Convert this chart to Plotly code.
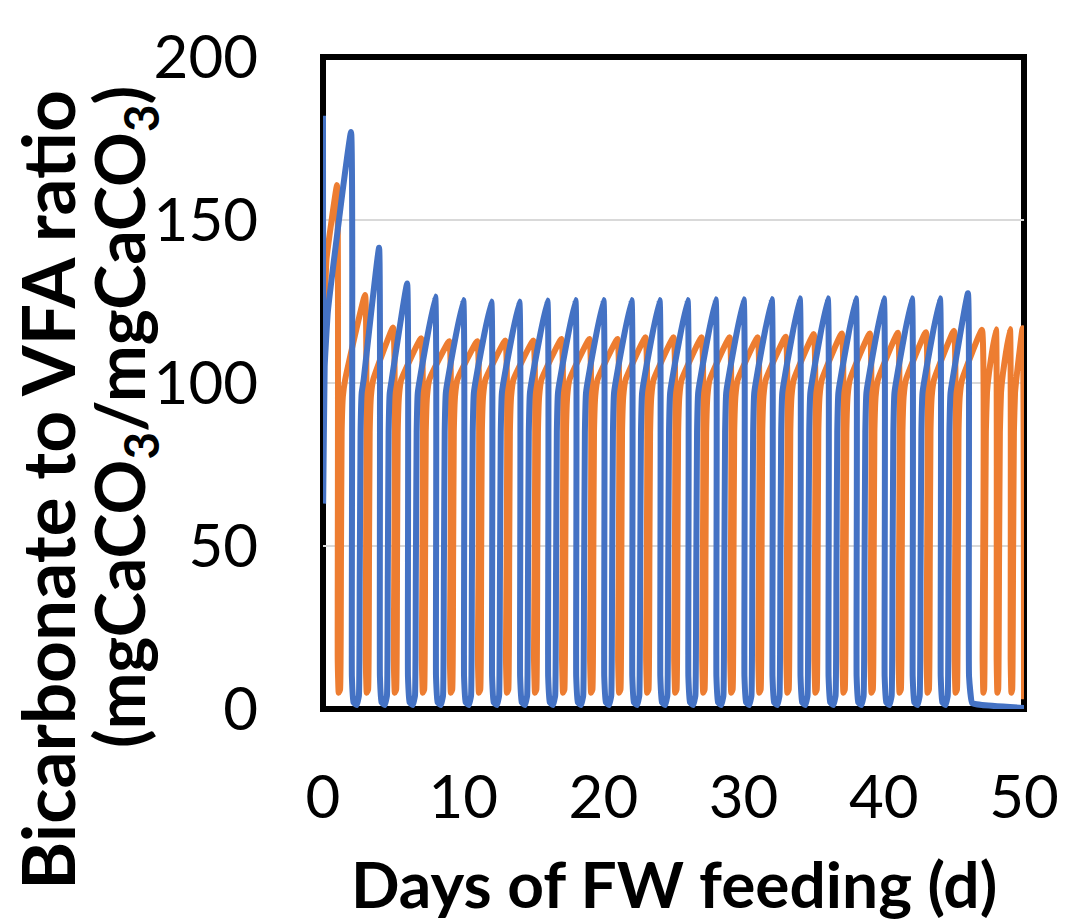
import plotly.graph_objects as go

# ---------------- data ----------------
# Blue series: 2-day feeding cycle, peaks on even days until day 46
blue_start_days = [0.0, 0.01, 0.12, 0.35]
blue_start_vals = [182, 63, 105, 122]
blue_peak_days = [2, 4, 6, 8, 10, 12, 14, 16, 18, 20, 22, 24, 26, 28, 30, 32, 34, 36, 38, 40, 42, 44, 46]
blue_peak_vals = [177, 141.5, 130.5, 126.5, 125.5, 125, 125, 125.3, 125.5, 125.5, 125.5, 125.5, 125.5,
                  125.7, 125.7, 125.8, 126, 126, 126, 126, 126, 126, 127.5]
# shape of one blue cycle after a peak (day offset, value)
blue_cycle_dt = [0.06, 0.18, 0.4, 0.56, 0.62, 0.68, 0.76, 0.9]
blue_cycle_v = [10, 2, 1.2, 4, 40, 85, 97, 101]
blue_end_days = [46.08, 46.3, 47.0, 50.0]
blue_end_vals = [10, 1.8, 1.2, 0.3]

# Orange series: 2-day cycle with peaks on odd days, then daily peaks from day 47
orange_start_days = [0.0, 0.08, 0.25]
orange_start_vals = [95, 115, 138]
orange_peak_days = [1, 3, 5, 7, 9, 11, 13, 15, 17, 19, 21, 23, 25, 27, 29, 31, 33, 35, 37, 39, 41, 43, 45,
                    47, 48, 49, 49.9]
orange_peak_vals = [160.7, 127, 117, 113.7, 112.8, 112.8, 113, 113, 113.5, 113.5, 113.5, 114, 114, 114,
                    114, 114, 114.2, 115, 115.2, 115.2, 115.4, 115.6, 116, 116.3, 116.5, 116.6, 116.8]
orange_cycle_dt = [0.05, 0.12, 0.22, 0.28, 0.33, 0.42, 0.58]
orange_cycle_v = [15, 5, 6, 45, 85, 96, 101]
orange_daily_dt = [0.05, 0.1, 0.16, 0.22, 0.28, 0.36, 0.5]
orange_daily_v = [15, 5, 6, 45, 85, 97, 103]
orange_end_days = [50.0]
orange_end_vals = [3]

# ---------------- build series ----------------
def build(start_d, start_v, peak_d, peak_v, end_d, end_v, pick_shape):
    xs, ys = list(start_d), list(start_v)
    for i, (pd_, pv) in enumerate(zip(peak_d, peak_v)):
        xs.append(pd_)
        ys.append(pv)
        if i < len(peak_d) - 1:
            dts, vs = pick_shape(i)
            for dt, v in zip(dts, vs):
                xs.append(pd_ + dt)
                ys.append(v)
    xs += end_d
    ys += end_v
    return xs, ys

bx, by = build(blue_start_days, blue_start_vals, blue_peak_days, blue_peak_vals,
               blue_end_days, blue_end_vals, lambda i: (blue_cycle_dt, blue_cycle_v))

def orange_shape(i):
    gap = orange_peak_days[i + 1] - orange_peak_days[i]
    return (orange_cycle_dt, orange_cycle_v) if gap > 1.5 else (orange_daily_dt, orange_daily_v)

ox, oy = build(orange_start_days, orange_start_vals, orange_peak_days, orange_peak_vals,
               orange_end_days, orange_end_vals, orange_shape)

BLUE = "#4472C4"
ORANGE = "#ED7D31"

fig = go.Figure()
fig.add_trace(go.Scatter(x=ox, y=oy, mode="lines", line=dict(color=ORANGE, width=6, shape="spline", smoothing=0.3),
                         cliponaxis=False, showlegend=False))
fig.add_trace(go.Scatter(x=bx, y=by, mode="lines", line=dict(color=BLUE, width=6, shape="spline", smoothing=0.3),
                         cliponaxis=False, showlegend=False))

FONT = "Lato"
W, H = 1071, 924
L, R, T, B = 323, 40, 57, 215
pw, ph = W - L - R, H - T - B

def px(xpix):
    return (xpix - L) / pw

def py(ypix):
    return (H - B - ypix) / ph

fig.update_layout(
    width=W, height=H,
    margin=dict(l=L, r=R, t=T, b=B, pad=0),
    paper_bgcolor="white", plot_bgcolor="rgba(0,0,0,0)",
    font=dict(family=FONT, color="black"),
    xaxis=dict(range=[0, 50], tickvals=[0, 10, 20, 30, 40, 50], ticks="", showgrid=False, zeroline=False,
               tickfont=dict(size=60, family=FONT), ticklabelstandoff=48, showline=False),
    yaxis=dict(range=[0, 200], tickvals=[0, 50, 100, 150, 200], ticks="", showgrid=True,
               gridcolor="#d9d9d9", gridwidth=2, zeroline=False,
               tickfont=dict(size=60, family=FONT), ticklabelstandoff=64, showline=False),
    shapes=[dict(type="rect", xref="paper", yref="paper", x0=0, x1=1, y0=0, y1=1,
                 line=dict(color="black", width=6), layer="between")],
    annotations=[
        dict(text="<b>Days of FW feeding (d)</b>", xref="paper", yref="paper", x=px(678), y=py(884),
             xanchor="center", yanchor="middle", showarrow=False, font=dict(size=64, family=FONT)),
        dict(text="<b>Bicarbonate to VFA ratio</b>", xref="paper", yref="paper", x=px(44), y=py(88),
             xanchor="center", yanchor="top", textangle=-90, showarrow=False, font=dict(size=73, family=FONT)),
        dict(text="<b>(mgCaCO<sub>3</sub>/mgCaCO<sub>3</sub>)</b>", xref="paper", yref="paper", x=px(121), y=py(84),
             xanchor="center", yanchor="top", textangle=-90, showarrow=False, font=dict(size=68, family=FONT)),
    ],
)

fig.write_html("out.html")
